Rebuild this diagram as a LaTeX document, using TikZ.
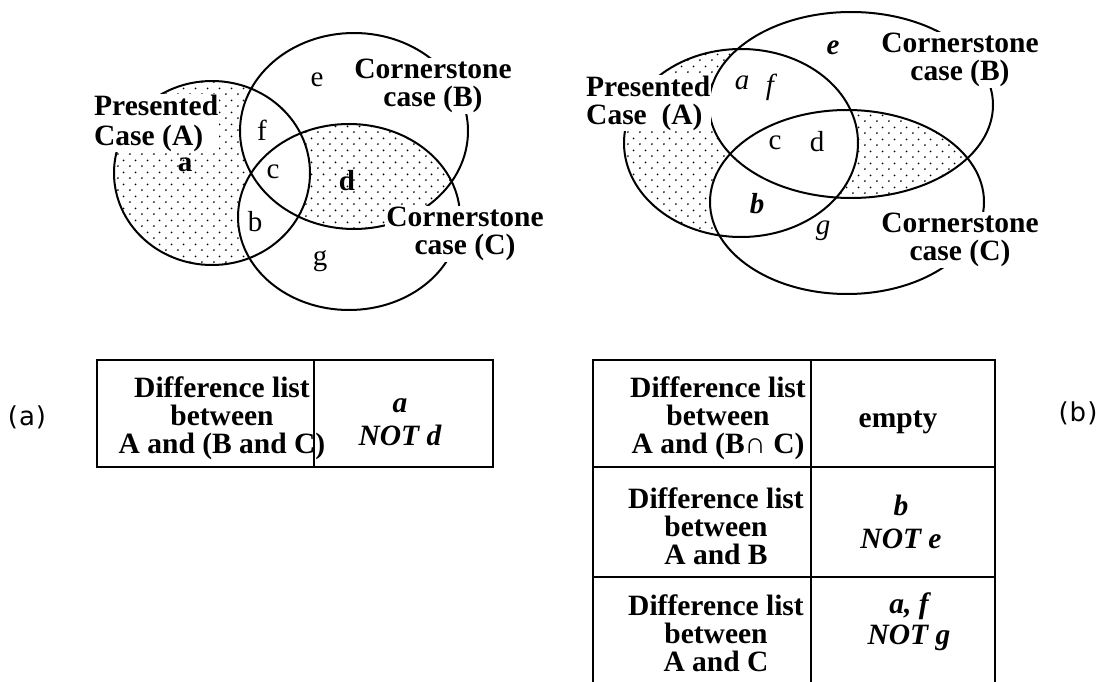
\documentclass[tikz,border=0pt]{standalone}
\usepackage{fontspec}
\setmainfont{Liberation Serif}
\newfontfamily\tagfont{DejaVu Sans}[LetterSpace=4.0]
\usetikzlibrary{patterns.meta}

\tikzdeclarepattern{
  name=venndots,
  type=uncolored,
  bounding box={(0pt,0pt) and (11.6pt,11.6pt)},
  tile size={(11.6pt,11.6pt)},
  code={
    \pgfpathcircle{\pgfpoint{2pt}{2pt}}{1pt}
    \pgfpathcircle{\pgfpoint{7.8pt}{7.8pt}}{1pt}
    \pgfusepath{fill}
  }
}

\begin{document}
\begin{tikzpicture}[x=1pt, y=-1pt,
      setline/.style={line width=2pt},
      dotfill/.style={pattern={venndots}, pattern color=black},
      lbl/.style={fill=white, inner sep=1pt, font=\bfseries\fontsize{29.5pt}{28pt}\selectfont},
      ltr/.style={inner sep=0pt, font=\fontsize{29pt}{28pt}\selectfont},
      cell/.style={draw, line width=2.4pt, inner sep=0pt},
      celltxt/.style={align=center, inner sep=0pt, font=\bfseries\fontsize{29.5pt}{28pt}\selectfont},
      cellval/.style={align=center, inner sep=0pt, font=\bfseries\itshape\fontsize{29.5pt}{28pt}\selectfont},
      tag/.style={inner sep=0pt, font=\tagfont\fontsize{26pt}{28pt}\selectfont}]
      \useasboundingbox (0,0) rectangle (1112,682);

      % (a) three sets
      \def\setA{(212,173) ellipse [x radius=98, y radius=92]}
      \def\setB{(354,131) ellipse [x radius=114, y radius=98]}
      \def\setC{(349,217) ellipse [x radius=111, y radius=93]}
      \fill[dotfill] \setA;
      \fill[white] \setB;
      \fill[white] \setC;
      \begin{scope}
        \clip \setB;
        \clip \setC;
        \fill[dotfill, even odd rule] (0,0) rectangle (1112,682) \setA;
      \end{scope}
      \draw[setline] \setA;
      \draw[setline] \setB;
      \draw[setline] \setC;

      \node[lbl, align=left, anchor=west, font=\bfseries\fontsize{29.5pt}{30pt}\selectfont] (presA) at (93,123) {Presented\\Case (A)};
      \node[lbl, align=center] (cornB) at (433,86) {Cornerstone\\case (B)};
      \node[lbl, align=center] (cornC) at (465,234) {Cornerstone\\case (C)};
      \node[ltr] (ea) at (317,80) {e};
      \node[ltr] (fa) at (262,130) {f};
      \node[ltr] (ca) at (273,172) {c};
      \node[ltr, font=\bfseries\fontsize{29pt}{28pt}\selectfont] (aa) at (185,165) {a};
      \node[ltr, font=\bfseries\fontsize{29pt}{28pt}\selectfont] (da) at (347,181) {d};
      \node[ltr] (ba) at (255,222) {b};
      \node[ltr] (ga) at (320,261) {g};

      % (b) three sets
      \def\setAb{(741,143) ellipse [x radius=117, y radius=94]}
      \def\setBb{(851,105) ellipse [x radius=142, y radius=93]}
      \def\setCb{(847,202) ellipse [x radius=137, y radius=92]}
      \fill[dotfill] \setAb;
      \fill[white] \setBb;
      \fill[white] \setCb;
      \begin{scope}
        \clip \setBb;
        \clip \setCb;
        \fill[dotfill, even odd rule] (0,0) rectangle (1112,682) \setAb;
      \end{scope}
      \draw[setline] \setAb;
      \draw[setline] \setBb;
      \draw[setline] \setCb;

      \node[lbl, align=left, anchor=west] (presAb) at (585,103) {Presented\\Case\ \ (A)};
      \node[lbl, align=center] (cornBb) at (960,60) {Cornerstone\\case (B)};
      \node[lbl, align=center] (cornCb) at (960,240) {Cornerstone\\case (C)};
      \node[ltr, font=\bfseries\itshape\fontsize{29pt}{28pt}\selectfont] (eb) at (833,48) {e};
      \node[ltr, font=\itshape\fontsize{29pt}{28pt}\selectfont] (ab) at (742,83) {a};
      \node[ltr, font=\itshape\fontsize{29pt}{28pt}\selectfont] (fb) at (770,87) {f};
      \node[ltr] (cb) at (775,143) {c};
      \node[ltr] (db) at (817,142) {d};
      \node[ltr, font=\bfseries\itshape\fontsize{29pt}{28pt}\selectfont] (bb) at (757,204) {b};
      \node[ltr, font=\itshape\fontsize{29pt}{28pt}\selectfont] (gb) at (823,231) {g};

      % table (a)
      \node[tag] (taga) at (27,417) {(a)};
      \node[cell, minimum width=217pt, minimum height=107pt] (ta1) at (205.5,413.5) {};
      \node[cell, minimum width=179pt, minimum height=107pt] (ta2) at (403.5,413.5) {};
      \node[celltxt] (ta1t) at (222,418) {Difference list\\between\\A and (B and C)};
      \node[cellval] (ta2t) at (400,422) {a\\[5pt]NOT d};

      % table (b)
      \node[tag] (tagb) at (1078,413) {(b)};
      \node[cell, minimum width=218pt, minimum height=107pt] (tb1) at (702,413.5) {};
      \node[cell, minimum width=184pt, minimum height=107pt] (tb2) at (903,413.5) {};
      \node[cell, minimum width=218pt, minimum height=110pt] (tb3) at (702,522) {};
      \node[cell, minimum width=184pt, minimum height=110pt] (tb4) at (903,522) {};
      \node[cell, minimum width=218pt, minimum height=113pt] (tb5) at (702,633.5) {};
      \node[cell, minimum width=184pt, minimum height=113pt] (tb6) at (903,633.5) {};
      \node[celltxt] (tb1t) at (718,418) {Difference list\\between\\A and (B∩ C)};
      \node[celltxt] (tb2t) at (898,422) {empty};
      \node[celltxt] (tb3t) at (716,526) {Difference list\\between\\A and B};
      \node[cellval] (tb4t) at (901,522) {b\\[5pt]NOT e};
      \node[celltxt] (tb5t) at (716,633) {Difference list\\between\\A and C};
      \node[cellval] (tb6t) at (909,622) {a, f\\[3pt]NOT g};
    \end{tikzpicture}
\end{document}
